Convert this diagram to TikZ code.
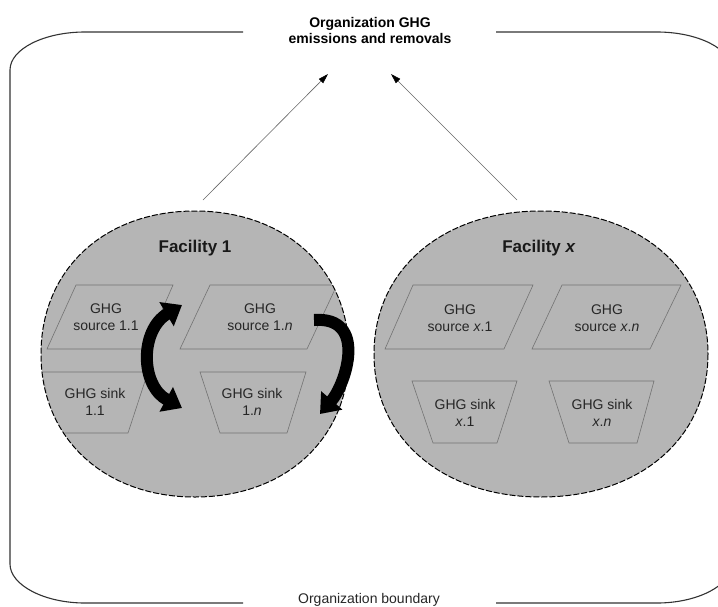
\documentclass[tikz,border=0pt]{standalone}
\usepackage{fontspec}
\setmainfont{Liberation Sans}
\usetikzlibrary{arrows.meta}

% fuller-than-elliptic outline of a facility: centre x, centre y, x radius, y radius
\newcommand{\facpath}[4]{({#1+#3},#2) .. controls ({#1+#3},{#2+0.59*#4}) and ({#1+0.59*#3},{#2+#4}) .. (#1,{#2+#4})
	.. controls ({#1-0.59*#3},{#2+#4}) and ({#1-#3},{#2+0.59*#4}) .. ({#1-#3},#2)
	.. controls ({#1-#3},{#2-0.59*#4}) and ({#1-0.59*#3},{#2-#4}) .. (#1,{#2-#4})
	.. controls ({#1+0.59*#3},{#2-#4}) and ({#1+#3},{#2-0.59*#4}) .. ({#1+#3},#2) -- cycle}

\begin{document}
\begin{tikzpicture}[x=1pt,y=-1pt,
			frame/.style={draw=black!80,line width=1.1pt},
			facility/.style={draw=black,fill=black!29,line width=1pt,dash pattern=on 6pt off 2pt},
			factitle/.style={font=\fontsize{17}{20}\selectfont\bfseries,text=black!90},
			boxline/.style={draw=black!55,line width=0.6pt},
			boxtext/.style={align=center,text=black!85,font=\fontsize{14}{17.5}\selectfont},
			titletext/.style={align=center,font=\fontsize{14}{16}\selectfont\bfseries},
			flowarrow/.style={draw=black!60,line width=0.6pt,-{Triangle[length=10pt,width=6pt,color=black]}},
			cyclearrow/.style={draw=black,line width=12pt},
			cyclehead/.tip={Triangle[width=27pt,length=18pt]}]
			\clip (0,0) rectangle (718,606);
			% organization boundary, open at top and bottom for the labels
			\draw[frame] (243,32) -- (85,32) .. controls (44,32) and (10,49) .. (10,70) -- (10,564)
				.. controls (10,585) and (44,603) .. (85,603) -- (243,603);
			\draw[frame] (496,32) -- (657,32) .. controls (698,32) and (732,49) .. (732,70) -- (732,564)
				.. controls (732,585) and (698,603) .. (657,603) -- (496,603);
			\node[titletext] (total) at (370,30) {Organization GHG\\emissions and removals};
			\node[boxtext] (boundary) at (369,600) {Organization boundary};
			% facilities
			\draw[facility] \facpath{195}{354}{154}{143};
			\draw[facility] \facpath{541}{354}{167}{143};
			\coordinate (fac1) at (195,354);
			\coordinate (facx) at (541,354);
			\node[factitle] (fac1lbl) at (195,248) {Facility 1};
			\node[factitle] (facxlbl) at (539,248) {Facility \textit{x}};
			% sources and sinks
			\begin{scope}
				\clip \facpath{195}{354}{153}{142};
				\foreach \tl/\tr/\bl/\br/\ty/\by in {76/173/47/145/285/349, 210/337/180/307/285/349,
						42/148/55/128/372/433, 200/306/220/287/372/433}
					\draw[boxline] (\tl,\ty) -- (\tr,\ty) -- (\br,\by) -- (\bl,\by) -- cycle;
			\end{scope}
			\begin{scope}
				\clip \facpath{541}{354}{166}{142};
				\foreach \tl/\tr/\bl/\br/\ty/\by in {413/533/385/504/285/349, 562/681/532/650/285/349,
						412/517/433/497/381/443, 549/654/569/637/381/443}
					\draw[boxline] (\tl,\ty) -- (\tr,\ty) -- (\br,\by) -- (\bl,\by) -- cycle;
			\end{scope}
			\node[boxtext] (src11) at (106,317) {GHG\\source 1.1};
			\node[boxtext] (src1n) at (260,317) {GHG\\source 1.\textit{n}};
			\node[boxtext] (snk11) at (95,402) {GHG sink\\1.1};
			\node[boxtext] (snk1n) at (252,402) {GHG sink\\1.\textit{n}};
			\node[boxtext] (srcx1) at (460,318) {GHG\\source \textit{x}.1};
			\node[boxtext] (srcxn) at (607,318) {GHG\\source \textit{x}.\textit{n}};
			\node[boxtext] (snkx1) at (465,413) {GHG sink\\\textit{x}.1};
			\node[boxtext] (snkxn) at (602,413) {GHG sink\\\textit{x}.\textit{n}};
			% exchange between sources and sinks
			\draw[cyclearrow,cyclehead-cyclehead] (182,305) .. controls (140,330) and (140,385) .. (182,408);
			\draw[cyclearrow,-cyclehead] (314,320) .. controls (368,316) and (346,384) .. (320,414);
			% reporting to the organization
			\coordinate (out1) at (203,200);
			\coordinate (outx) at (517,200);
			\coordinate (in1) at (328,74);
			\coordinate (inx) at (391,74);
			\draw[flowarrow] (out1) -- (in1);
			\draw[flowarrow] (outx) -- (inx);
\end{tikzpicture}
\end{document}
